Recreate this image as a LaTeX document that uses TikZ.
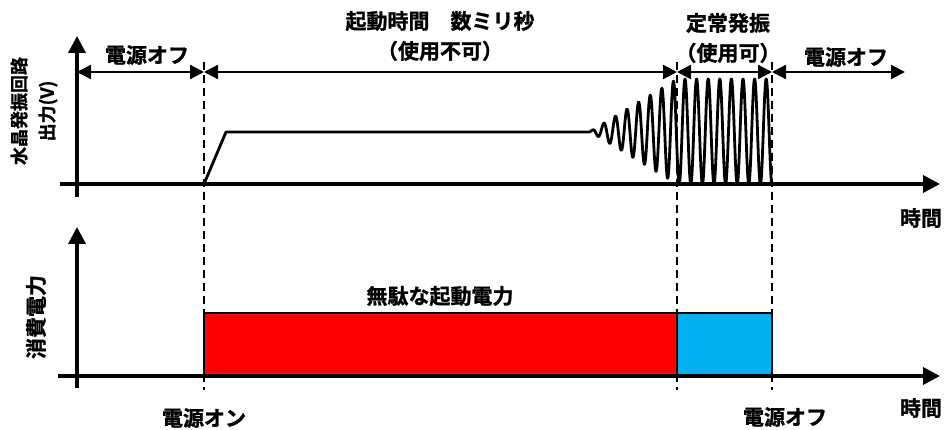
\documentclass[tikz,border=0pt]{standalone}
\usepackage{fontspec}
\setmainfont{Noto Sans CJK JP Bold}[FakeBold=1.2]
\usetikzlibrary{arrows.meta}
\begin{document}
\begin{tikzpicture}[x=1pt,y=-1pt,
	axis/.style={line width=3.6pt,-{Triangle[length=17pt,width=17pt]}},
	span/.style={line width=2.4pt,{Triangle[length=14pt,width=14pt]}-{Triangle[length=14pt,width=14pt]}},
	guide/.style={line width=2.2pt,dash pattern=on 8pt off 5pt},
	lbl/.style={font=\fontsize{21}{30}\selectfont,align=center,inner sep=0pt}]
	\useasboundingbox (0,0) rectangle (946,430);
	% marks on the time line
	\coordinate (t0) at (77,72);
	\coordinate (t1) at (204,72);
	\coordinate (t2) at (677,72);
	\coordinate (t3) at (772,72);
	\coordinate (t4) at (905,72);
	% power bars
	\filldraw [fill=red,line width=1.8pt] (204,313) rectangle (677,376);
	\filldraw [fill={rgb,255:red,0;green,176;blue,240},line width=1.8pt] (677,313) rectangle (772,376);
	% axes
	\draw [axis] (60,184) -- (940,184);
	\draw [axis] (77,197) -- (77,36);
	\draw [axis] (58,376) -- (940,376);
	\draw [axis] (77,388) -- (77,227);
	% guides
	\draw [guide] (204,62) -- (204,390);
	\draw [guide] (677,62) -- (677,390);
	\draw [guide] (772,62) -- (772,390);
	% output of the oscillator
	\draw [line width=2.8pt,line join=round] (204,184) -- (226,132) -- (590,132)
		-- plot[domain=590:772,samples=600] (\x,{131.5+min(52.5,52.5*(\x-590)/87)*cos((\x-772)/11.6*360)});
	\draw [span] (t0) -- (t1);
	\draw [span] (t1) -- (t2);
	\draw [span] (t2) -- (t3);
	\draw [span] (t3) -- (t4);
	% labels
	\node[lbl] (offa) at (147,55) {電源オフ};
	\node[lbl] (boot) at (440,36) {起動時間　数ミリ秒\\（使用不可）};
	\node[lbl] (steady) at (728,38) {定常発振\\（使用可）};
	\node[lbl] (offb) at (846,57) {電源オフ};
	\node[lbl,rotate=90,font=\fontsize{18}{28}\selectfont] (ylabA) at (34,111) {水晶発振回路\\出力(V)};
	\node[lbl,rotate=90] (ylabB) at (36,317) {消費電力};
	\node[lbl] (waste) at (440,296) {無駄な起動電力};
	\node[lbl] (on) at (204,418) {電源オン};
	\node[lbl] (offc) at (785,417) {電源オフ};
	\node[lbl] (timeA) at (921,218) {時間};
	\node[lbl] (timeB) at (921,408) {時間};
\end{tikzpicture}
\end{document}
